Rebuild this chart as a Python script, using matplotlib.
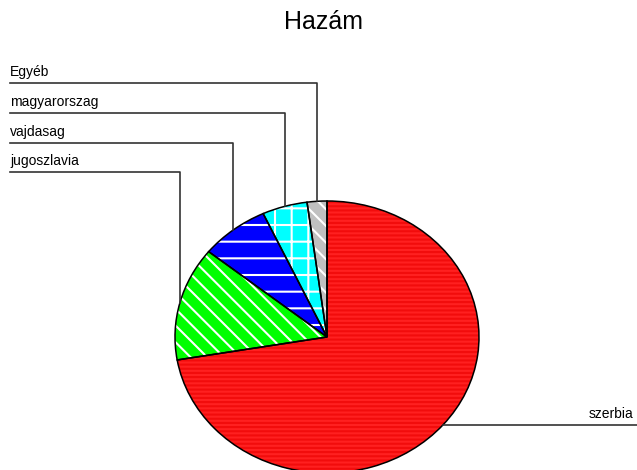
import numpy as np
import matplotlib.pyplot as plt

# Data
labels = ['szerbia', 'jugoszlavia', 'vajdasag', 'magyarorszag', 'Egyéb']
values = [72.3, 13.5, 7.3, 4.8, 2.1]
colors = ['#ff2020', '#00ff00', '#0000ff', '#00ffff', '#c0c0c0']
hatch_colors = ['#f20c0c', 'white', 'white', 'white', 'white']
hatches = ['----', '\\\\', '-', '+', '\\\\']
label_rows = [None, 172, 143, 113, 83]   # pixel height of each leader line

W, H = 637, 470
cx, cy = 327, 337      # pie centre in pixels
rx, ry = 152, 136      # pie is drawn slightly squashed

plt.rcParams['font.family'] = ['Liberation Sans', 'DejaVu Sans']
plt.rcParams['hatch.linewidth'] = 1.5

fig = plt.figure(figsize=(W / 100, H / 100), dpi=100)
ax = fig.add_axes([0, 0, 1, 1])


def px(x, y):
    # pixel position -> data coords of the unit pie
    return (x - cx) / rx, (cy - y) / ry


# fill + hatch pass
wedges, _ = ax.pie(values, startangle=90, counterclock=False, colors=colors,
                   wedgeprops=dict(linewidth=0))
for w, h, hc in zip(wedges, hatches, hatch_colors):
    w.set_hatch(h)
    w.set_edgecolor(hc)
    w.set_linewidth(0)

# outline pass
ax.pie(values, startangle=90, counterclock=False,
       wedgeprops=dict(facecolor='none', edgecolor='black', linewidth=1.1))

ax.set_aspect('auto')
x0, y0 = px(0, H)
x1, y1 = px(W, 0)
ax.set_xlim(x0, x1)
ax.set_ylim(y0, y1)
ax.axis('off')

# leader lines and labels
line_col = '#333333'
for i, w in enumerate(wedges):
    mid = np.deg2rad((w.theta1 + w.theta2) / 2)
    ex, ey = np.cos(mid), np.sin(mid)
    if label_rows[i] is None:
        xr, _ = px(W, 0)
        ax.plot([ex, xr], [ey, ey], color=line_col, lw=1.2, clip_on=False)
        tx, _ = px(633, 0)
        ax.text(tx, ey + 4 / ry, labels[i], ha='right', va='bottom', fontsize=10)
    else:
        xl, yl = px(10, label_rows[i])
        ax.plot([ex, ex, xl], [ey, yl, yl], color=line_col, lw=1.2, clip_on=False)
        ax.text(xl, yl + 4 / ry, labels[i], ha='left', va='bottom', fontsize=10)

tx, ty = px(324, 29)
ax.text(tx, ty, 'Hazám', ha='center', va='baseline', fontsize=18)

fig.savefig('out.png', dpi=100)
